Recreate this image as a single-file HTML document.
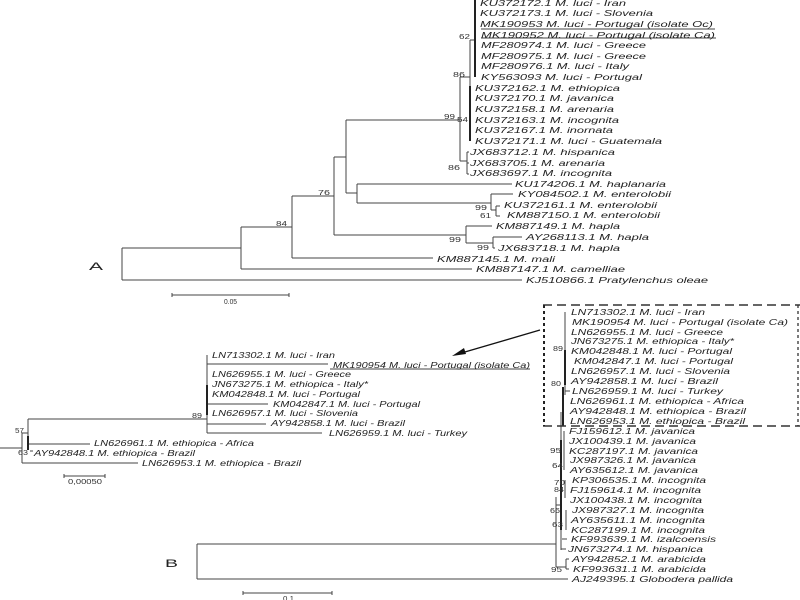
<!DOCTYPE html>
<html><head><meta charset="utf-8"><style>
html,body{margin:0;padding:0;background:#fff;width:800px;height:600px;overflow:hidden}
svg{display:block;filter:blur(.3px)}
.t text{font:italic 8px "Liberation Sans",sans-serif;fill:#222}
.n text{font:7px "Liberation Sans",sans-serif;fill:#333}
.l path{fill:none;stroke:#444;stroke-width:1}
.k path{fill:none;stroke:#222;stroke-width:2}
</style></head><body>
<svg width="800" height="600" viewBox="0 0 800 600" xmlns="http://www.w3.org/2000/svg">
<g class="l"><path d="M122 248V280M122 248H241M122 280H522M241 227V269M241 269H472M241 227H292M292 196V258M292 258H433M292 196H334M334 157V235M334 235H466M466 226V243M466 226H492M466 243H493M493 237V248M493 237H522M493 248H495M334 157H346M346 120V193M346 120H460M346 193H357M357 184V203M357 184H512M357 203H491M491 194V210M491 194H513M491 210H496M496 206V216M496 206H500M496 216H500M460 77V161M460 77H470M460 161H467M467 152V174M467 152H469M467 163H469M467 174H469M470 40V141M470 40H475M475 0V77"/>
<path d="M172 295H289M172 293V297M289 293V297"/>
<path d="M481 29H715M481 38H716"/>
<path d="M0 448H22M22 433V463M22 433H28M28 419V450M28 419H207M207 355V433M207 364H328M207 404H268M207 424H266M207 433H322M29 444H90M22 463H138M30 451H33"/>
<path d="M64 476H105M64 474V478M105 474V478"/>
<path d="M330 369H530"/>
<path d="M197 544V579M197 544H556M197 579H568M556 497V567M556 505H561M556 567H566M566 559V569M566 559H569M566 569H569M561 412V550M561 549H566M563 387V426M565 312V395M565 391H570M564 431V470M566 510V530M565 480V498M562 539H567"/>
<path d="M243 593H332M243 591V595M332 591V595"/>
</g>
<g class="k"><path d="M470 86V141M475 0V77M207 385V415M28 436V450M565 350V385M561 440V530M563 387V426"/></g>
<path d="M543 305H800M543 426H800" fill="none" stroke="#333" stroke-width="1.5" stroke-dasharray="9 5"/>
<path d="M798 305V426" fill="none" stroke="#333" stroke-width="1.3" stroke-dasharray="3 3"/>
<path d="M544 305V426" fill="none" stroke="#222" stroke-width="2" stroke-dasharray="3 3"/>
<path d="M540 330L458 354" stroke="#111" stroke-width="1.3" fill="none"/>
<path d="M452 356L464 348L466 354Z" fill="#111"/>
<g class="t" text-anchor="start" lengthAdjust="spacingAndGlyphs">
<text x="480" y="6" textLength="146" lengthAdjust="spacingAndGlyphs">KU372172.1 M. luci - Iran</text>
<text x="480" y="16" textLength="173" lengthAdjust="spacingAndGlyphs">KU372173.1 M. luci - Slovenia</text>
<text x="480" y="27" textLength="233" lengthAdjust="spacingAndGlyphs">MK190953 M. luci - Portugal (isolate Oc)</text>
<text x="481" y="38" textLength="234" lengthAdjust="spacingAndGlyphs">MK190952 M. luci - Portugal (isolate Ca)</text>
<text x="481" y="48" textLength="165" lengthAdjust="spacingAndGlyphs">MF280974.1 M. luci - Greece</text>
<text x="481" y="59" textLength="165" lengthAdjust="spacingAndGlyphs">MF280975.1 M. luci - Greece</text>
<text x="481" y="69" textLength="148" lengthAdjust="spacingAndGlyphs">MF280976.1 M. luci - Italy</text>
<text x="481" y="80" textLength="161" lengthAdjust="spacingAndGlyphs">KY563093 M. luci - Portugal</text>
<text x="475" y="91" textLength="145" lengthAdjust="spacingAndGlyphs">KU372162.1 M. ethiopica</text>
<text x="475" y="101" textLength="139" lengthAdjust="spacingAndGlyphs">KU372170.1 M. javanica</text>
<text x="475" y="112" textLength="139" lengthAdjust="spacingAndGlyphs">KU372158.1 M. arenaria</text>
<text x="475" y="123" textLength="144" lengthAdjust="spacingAndGlyphs">KU372163.1 M. incognita</text>
<text x="475" y="133" textLength="138" lengthAdjust="spacingAndGlyphs">KU372167.1 M. inornata</text>
<text x="475" y="144" textLength="187" lengthAdjust="spacingAndGlyphs">KU372171.1 M. luci - Guatemala</text>
<text x="470" y="155" textLength="145" lengthAdjust="spacingAndGlyphs">JX683712.1 M. hispanica</text>
<text x="470" y="166" textLength="135" lengthAdjust="spacingAndGlyphs">JX683705.1 M. arenaria</text>
<text x="470" y="176" textLength="142" lengthAdjust="spacingAndGlyphs">JX683697.1 M. incognita</text>
<text x="515" y="187" textLength="151" lengthAdjust="spacingAndGlyphs">KU174206.1 M. haplanaria</text>
<text x="518" y="197" textLength="153" lengthAdjust="spacingAndGlyphs">KY084502.1 M. enterolobii</text>
<text x="504" y="208" textLength="153" lengthAdjust="spacingAndGlyphs">KU372161.1 M. enterolobii</text>
<text x="507" y="218" textLength="153" lengthAdjust="spacingAndGlyphs">KM887150.1 M. enterolobii</text>
<text x="496" y="229" textLength="124" lengthAdjust="spacingAndGlyphs">KM887149.1 M. hapla</text>
<text x="526" y="240" textLength="123" lengthAdjust="spacingAndGlyphs">AY268113.1 M. hapla</text>
<text x="498" y="251" textLength="122" lengthAdjust="spacingAndGlyphs">JX683718.1 M. hapla</text>
<text x="437" y="262" textLength="118" lengthAdjust="spacingAndGlyphs">KM887145.1 M. mali</text>
<text x="476" y="272" textLength="149" lengthAdjust="spacingAndGlyphs">KM887147.1 M. camelliae</text>
<text x="526" y="283" textLength="182" lengthAdjust="spacingAndGlyphs">KJ510866.1 Pratylenchus oleae</text>

<text x="212" y="358" textLength="123" lengthAdjust="spacingAndGlyphs">LN713302.1 M. luci - Iran</text>
<text x="333" y="368" textLength="197" lengthAdjust="spacingAndGlyphs">MK190954 M. luci - Portugal (isolate Ca)</text>
<text x="212" y="377" textLength="139" lengthAdjust="spacingAndGlyphs">LN626955.1 M. luci - Greece</text>
<text x="212" y="387" textLength="156" lengthAdjust="spacingAndGlyphs">JN673275.1 M. ethiopica - Italy*</text>
<text x="212" y="397" textLength="148" lengthAdjust="spacingAndGlyphs">KM042848.1 M. luci - Portugal</text>
<text x="273" y="407" textLength="147" lengthAdjust="spacingAndGlyphs">KM042847.1 M. luci - Portugal</text>
<text x="212" y="416" textLength="146" lengthAdjust="spacingAndGlyphs">LN626957.1 M. luci - Slovenia</text>
<text x="271" y="426" textLength="134" lengthAdjust="spacingAndGlyphs">AY942858.1 M. luci - Brazil</text>
<text x="329" y="436" textLength="138" lengthAdjust="spacingAndGlyphs">LN626959.1 M. luci - Turkey</text>
<text x="94" y="446" textLength="160" lengthAdjust="spacingAndGlyphs">LN626961.1 M. ethiopica - Africa</text>
<text x="34" y="456" textLength="161" lengthAdjust="spacingAndGlyphs">AY942848.1 M. ethiopica - Brazil</text>
<text x="142" y="466" textLength="159" lengthAdjust="spacingAndGlyphs">LN626953.1 M. ethiopica - Brazil</text>

<text x="571" y="315" textLength="134" lengthAdjust="spacingAndGlyphs">LN713302.1 M. luci - Iran</text>
<text x="572" y="325" textLength="216" lengthAdjust="spacingAndGlyphs">MK190954 M. luci - Portugal (isolate Ca)</text>
<text x="571" y="335" textLength="152" lengthAdjust="spacingAndGlyphs">LN626955.1 M. luci - Greece</text>
<text x="571" y="344" textLength="163" lengthAdjust="spacingAndGlyphs">JN673275.1 M. ethiopica - Italy*</text>
<text x="571" y="354" textLength="161" lengthAdjust="spacingAndGlyphs">KM042848.1 M. luci - Portugal</text>
<text x="574" y="364" textLength="159" lengthAdjust="spacingAndGlyphs">KM042847.1 M. luci - Portugal</text>
<text x="571" y="374" textLength="159" lengthAdjust="spacingAndGlyphs">LN626957.1 M. luci - Slovenia</text>
<text x="571" y="384" textLength="147" lengthAdjust="spacingAndGlyphs">AY942858.1 M. luci - Brazil</text>
<text x="572" y="394" textLength="151" lengthAdjust="spacingAndGlyphs">LN626959.1 M. luci - Turkey</text>
<text x="570" y="404" textLength="174" lengthAdjust="spacingAndGlyphs">LN626961.1 M. ethiopica - Africa</text>
<text x="570" y="414" textLength="176" lengthAdjust="spacingAndGlyphs">AY942848.1 M. ethiopica - Brazil</text>
<text x="570" y="424" textLength="175" lengthAdjust="spacingAndGlyphs">LN626953.1 M. ethiopica - Brazil</text>
<text x="569" y="434" textLength="126" lengthAdjust="spacingAndGlyphs">FJ159612.1 M. javanica</text>
<text x="569" y="444" textLength="127" lengthAdjust="spacingAndGlyphs">JX100439.1 M. javanica</text>
<text x="569" y="454" textLength="129" lengthAdjust="spacingAndGlyphs">KC287197.1 M. javanica</text>
<text x="570" y="463" textLength="126" lengthAdjust="spacingAndGlyphs">JX987326.1 M. javanica</text>
<text x="570" y="473" textLength="128" lengthAdjust="spacingAndGlyphs">AY635612.1 M. javanica</text>
<text x="572" y="483" textLength="134" lengthAdjust="spacingAndGlyphs">KP306535.1 M. incognita</text>
<text x="570" y="493" textLength="131" lengthAdjust="spacingAndGlyphs">FJ159614.1 M. incognita</text>
<text x="570" y="503" textLength="132" lengthAdjust="spacingAndGlyphs">JX100438.1 M. incognita</text>
<text x="572" y="513" textLength="132" lengthAdjust="spacingAndGlyphs">JX987327.1 M. incognita</text>
<text x="571" y="523" textLength="134" lengthAdjust="spacingAndGlyphs">AY635611.1 M. incognita</text>
<text x="571" y="533" textLength="134" lengthAdjust="spacingAndGlyphs">KC287199.1 M. incognita</text>
<text x="571" y="542" textLength="145" lengthAdjust="spacingAndGlyphs">KF993639.1 M. izalcoensis</text>
<text x="568" y="552" textLength="135" lengthAdjust="spacingAndGlyphs">JN673274.1 M. hispanica</text>
<text x="572" y="562" textLength="134" lengthAdjust="spacingAndGlyphs">AY942852.1 M. arabicida</text>
<text x="573" y="572" textLength="133" lengthAdjust="spacingAndGlyphs">KF993631.1 M. arabicida</text>
<text x="572" y="582" textLength="161" lengthAdjust="spacingAndGlyphs">AJ249395.1 Globodera pallida</text>
</g>
<g class="n">
<text x="459" y="39" textLength="11" lengthAdjust="spacingAndGlyphs">62</text>
<text x="453" y="77" textLength="12" lengthAdjust="spacingAndGlyphs">86</text>
<text x="444" y="119" textLength="11" lengthAdjust="spacingAndGlyphs">99</text>
<text x="457" y="122" textLength="11" lengthAdjust="spacingAndGlyphs">54</text>
<text x="448" y="170" textLength="12" lengthAdjust="spacingAndGlyphs">86</text>
<text x="318" y="195" textLength="12" lengthAdjust="spacingAndGlyphs">76</text>
<text x="276" y="226" textLength="11" lengthAdjust="spacingAndGlyphs">84</text>
<text x="475" y="210" textLength="12" lengthAdjust="spacingAndGlyphs">99</text>
<text x="480" y="218" textLength="11" lengthAdjust="spacingAndGlyphs">61</text>
<text x="449" y="242" textLength="12" lengthAdjust="spacingAndGlyphs">99</text>
<text x="477" y="250" textLength="12" lengthAdjust="spacingAndGlyphs">99</text>
<text x="224" y="304" textLength="13" lengthAdjust="spacingAndGlyphs">0.05</text>
<text x="192" y="418" textLength="10" lengthAdjust="spacingAndGlyphs">89</text>
<text x="15" y="433" textLength="9" lengthAdjust="spacingAndGlyphs">57</text>
<text x="18" y="455" textLength="10" lengthAdjust="spacingAndGlyphs">63</text>
<text x="68" y="484" textLength="34" lengthAdjust="spacingAndGlyphs">0,00050</text>
<text x="553" y="351" textLength="10" lengthAdjust="spacingAndGlyphs">89</text>
<text x="551" y="386" textLength="10" lengthAdjust="spacingAndGlyphs">80</text>
<text x="550" y="453" textLength="11" lengthAdjust="spacingAndGlyphs">95</text>
<text x="552" y="468" textLength="11" lengthAdjust="spacingAndGlyphs">64</text>
<text x="554" y="485" textLength="11" lengthAdjust="spacingAndGlyphs">70</text>
<text x="554" y="492" textLength="10" lengthAdjust="spacingAndGlyphs">84</text>
<text x="550" y="513" textLength="10" lengthAdjust="spacingAndGlyphs">66</text>
<text x="552" y="527" textLength="11" lengthAdjust="spacingAndGlyphs">63</text>
<text x="551" y="572" textLength="11" lengthAdjust="spacingAndGlyphs">95</text>
<text x="283" y="601" textLength="11" lengthAdjust="spacingAndGlyphs">0.1</text>
</g>
<text x="89" y="270" textLength="14" lengthAdjust="spacingAndGlyphs" style="font:11px 'Liberation Sans',sans-serif;fill:#222">A</text>
<text x="165" y="567" textLength="13" lengthAdjust="spacingAndGlyphs" style="font:11px 'Liberation Sans',sans-serif;fill:#222">B</text>
</svg>
</body></html>
